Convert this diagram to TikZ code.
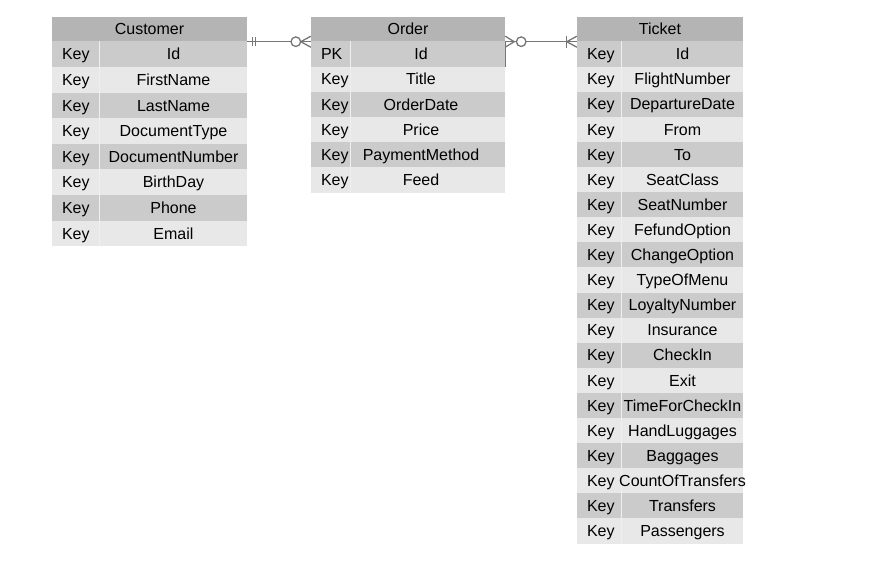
\documentclass[tikz,border=0pt]{standalone}
\usepackage{fontspec}
\setmainfont{Liberation Sans}
\usepackage{tikz}

\definecolor{hdrgray}{RGB}{180,180,180}
\definecolor{rowdark}{RGB}{203,203,203}
\definecolor{rowlight}{RGB}{232,232,232}
\definecolor{relgray}{RGB}{118,118,118}

\begin{document}
\begin{tikzpicture}[x=1pt, y=-1pt,
    font=\fontsize{16}{18}\selectfont,
    tblhead/.style={fill=hdrgray, minimum height=24.5pt, inner sep=0pt, text height=11.4pt, text depth=0pt},
    tblrow/.style={inner sep=0pt},
    keytxt/.style={anchor=west, inner sep=0pt, text height=11.4pt, text depth=0pt},
    fldtxt/.style={inner sep=0pt, text height=11.4pt, text depth=0pt},
    colsep/.style={white!70!rowdark, line width=0.8pt},
    relline/.style={relgray, line width=1.3pt}]
  \useasboundingbox (0,0) rectangle (875,561);

  % Customer
  \node[tblhead, minimum width=195pt] (cust) at (149.5,29.25) {Customer};
  \foreach \fld [count=\i] in {Id, FirstName, LastName, DocumentType, DocumentNumber, BirthDay, Phone, Email} {
    \ifodd\i \def\rowcol{rowdark}\else \def\rowcol{rowlight}\fi
    \pgfmathsetmacro\rowy{54.3+(\i-1)*25.6}
    \node[tblrow, minimum height=25.6pt, fill=\rowcol, minimum width=195pt] (cust-\i) at (149.5,\rowy) {};
    \draw[colsep] ([xshift=48pt]cust-\i.north west) -- ([xshift=48pt]cust-\i.south west);
    \node[keytxt] (cust-\i-k) at ([xshift=10pt]cust-\i.west) {Key};
    \node[fldtxt] (cust-\i-f) at (173.5,\rowy) {\fld};
  }

  % Order
  \node[tblhead, minimum width=194pt] (ord) at (408,29.25) {Order};
  \foreach \fld [count=\i] in {Id, Title, OrderDate, Price, PaymentMethod, Feed} {
    \ifodd\i \def\rowcol{rowdark}\else \def\rowcol{rowlight}\fi
    \ifnum\i=1 \def\keylab{PK}\else \def\keylab{Key}\fi
    \pgfmathsetmacro\rowy{54.1+(\i-1)*25.2}
    \node[tblrow, minimum height=25.2pt, fill=\rowcol, minimum width=194pt] (ord-\i) at (408,\rowy) {};
    \draw[colsep] ([xshift=40pt]ord-\i.north west) -- ([xshift=40pt]ord-\i.south west);
    \node[keytxt] (ord-\i-k) at ([xshift=10pt]ord-\i.west) {\keylab};
    \node[fldtxt] (ord-\i-f) at (421,\rowy) {\fld};
  }
  \draw[relgray, line width=1.2pt] (ord-1.north east) -- (ord-1.south east);

  % Ticket
  \node[tblhead, minimum width=166pt] (tick) at (660,29.25) {Ticket};
  \foreach \fld [count=\i] in {Id, FlightNumber, DepartureDate, From, To, SeatClass, SeatNumber,
      FefundOption, ChangeOption, TypeOfMenu, LoyaltyNumber, Insurance, CheckIn, Exit,
      TimeForCheckIn, HandLuggages, Baggages, CountOfTransfers, Transfers, Passengers} {
    \ifodd\i \def\rowcol{rowdark}\else \def\rowcol{rowlight}\fi
    \pgfmathsetmacro\rowy{54.05+(\i-1)*25.1}
    \node[tblrow, minimum height=25.1pt, fill=\rowcol, minimum width=166pt] (tick-\i) at (660,\rowy) {};
    \draw[colsep] ([xshift=45pt]tick-\i.north west) -- ([xshift=45pt]tick-\i.south west);
    \node[keytxt] (tick-\i-k) at ([xshift=10pt]tick-\i.west) {Key};
    \node[fldtxt] (tick-\i-f) at (682.5,\rowy) {\fld};
  }

  % Customer -- Order: one and only one to zero or many
  \draw[relline] (cust.south east) -- (ord.south west);
  \draw[relline] (cust.south east) ++(5,-4.5) -- ++(0,9);
  \draw[relline] (cust.south east) ++(8,-4.5) -- ++(0,9);
  \draw[relline] (ord.south west) ++(0,-5.5) -- ++(-10,5.5) -- ++(10,5.5);
  \draw[relline, fill=white] (ord.south west) ++(-15,0) circle [radius=4.8pt];

  % Order -- Ticket: zero or many to one or many
  \draw[relline] (ord.south east) -- (tick.south west);
  \draw[relline] (ord.south east) ++(0,-5.5) -- ++(9,5.5) -- ++(-9,5.5);
  \draw[relline, fill=white] (ord.south east) ++(16,0) circle [radius=4.8pt];
  \draw[relline] (tick.south west) ++(-10,-6) -- ++(0,12);
  \draw[relline] (tick.south west) ++(0,-5.5) -- ++(-10,5.5) -- ++(10,5.5);
\end{tikzpicture}
\end{document}
